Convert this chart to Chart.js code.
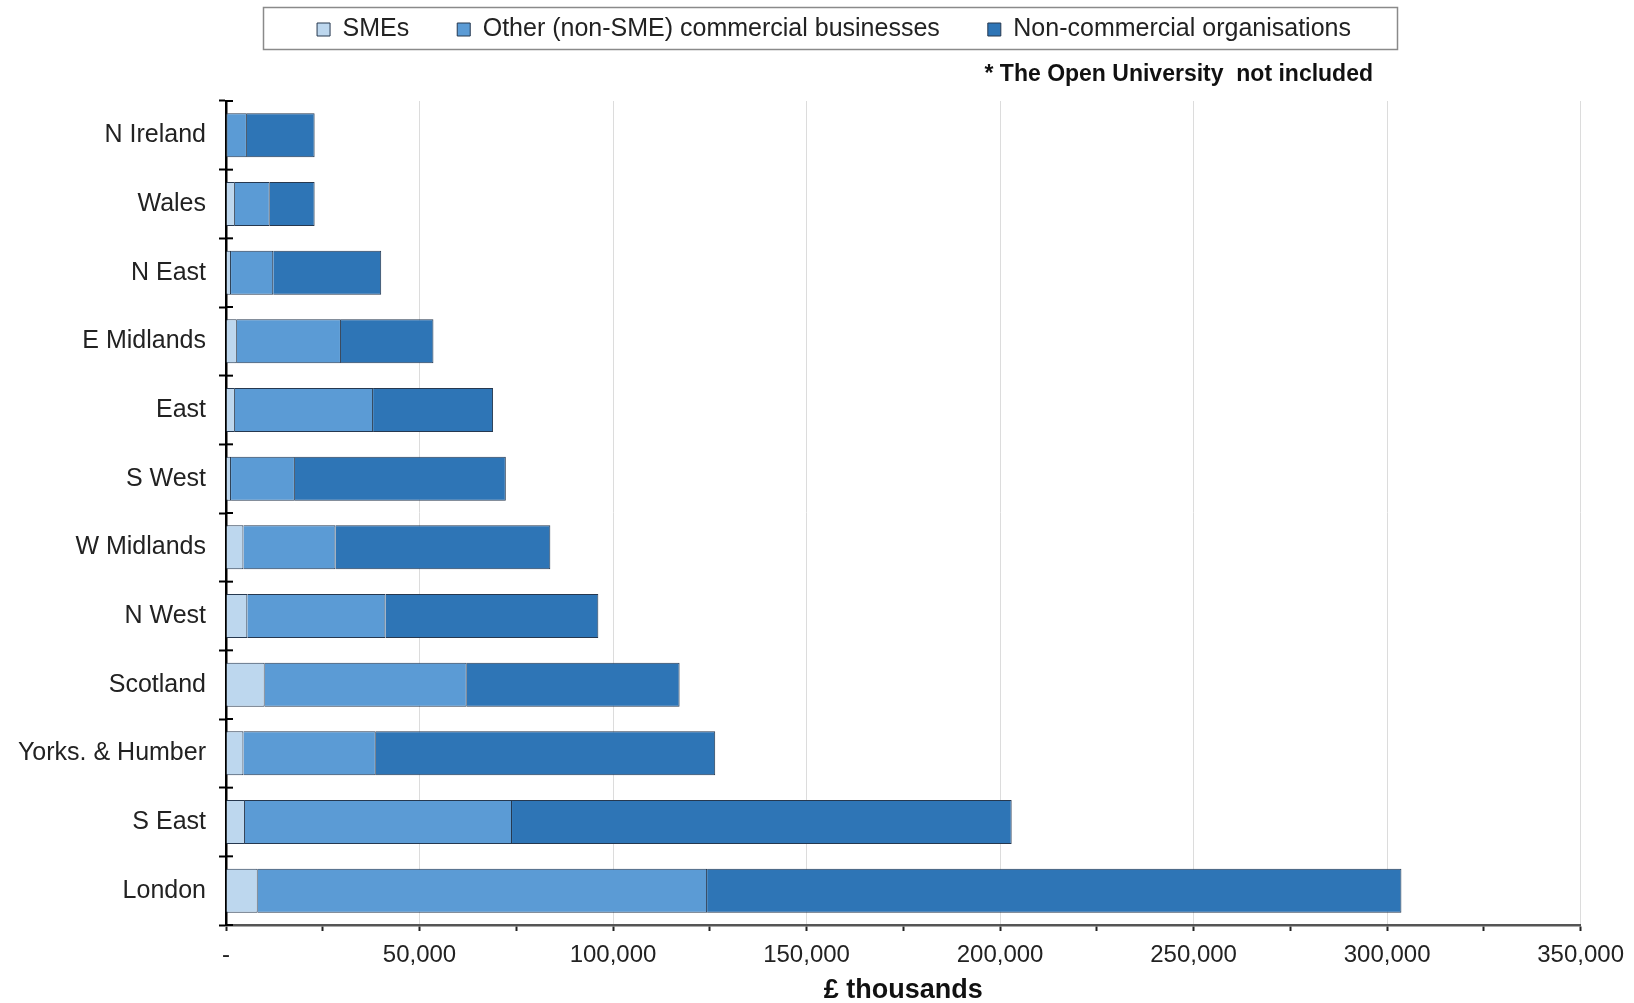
<!DOCTYPE html>
<html>
<head>
<meta charset="utf-8">
<script src="https://cdn.jsdelivr.net/npm/chart.js@4/dist/chart.umd.min.js"></script>
<style>
  body { margin: 0; background: #fff; }
  canvas { display: block; }
</style>
</head>
<body>
<canvas id="bar-chart" width="1634" height="1003"></canvas>
<script>
// regions, top to bottom
var regions = ['N Ireland', 'Wales', 'N East', 'E Midlands', 'East', 'S West', 'W Midlands', 'N West', 'Scotland', 'Yorks. & Humber', 'S East', 'London'];
// £ thousands
var smes          = [300, 2300, 1300, 2800, 2300, 1300, 4500, 5500, 10000, 4500, 4900, 8200];
var otherBusiness = [5100, 9000, 10900, 26900, 35700, 16500, 23800, 35700, 52200, 34200, 69000, 116100];
var nonCommercial = [17500, 11600, 27900, 23900, 31000, 54500, 55500, 55000, 55000, 87700, 129100, 179400];
var xTicks = [0, 50000, 100000, 150000, 200000, 250000, 300000, 350000];

var font = "'Liberation Sans', Arial, sans-serif";
var edge = '#26384f';
var legendShift = 43;

// legend frame, note text and the inner half of the y tick marks
var extras = {
  id: 'extras',
  beforeInit: function (chart) {
    var fit = chart.legend.fit;
    chart.legend.fit = function () {
      fit.bind(chart.legend)();
      this.height = 101;
    };
  },
  afterLayout: function (chart) {
    var lg = chart.legend;
    lg.top = -31;
    lg.bottom = lg.top + lg.height;
    lg.left += legendShift;
    lg.right += legendShift;
  },
  afterDraw: function (chart) {
    var ctx = chart.ctx, a = chart.chartArea, y = chart.scales.y;
    var hb = chart.legend.legendHitBoxes;
    ctx.save();
    // legend frame
    var last = hb[hb.length - 1];
    var l = hb[0].left - 54, r = last.left + last.width + 46;
    ctx.strokeStyle = '#8a8a8a';
    ctx.lineWidth = 1.5;
    ctx.strokeRect(Math.round(l) + 0.5, 7.5, Math.round(r - l), 42);
    // note
    ctx.fillStyle = '#111';
    ctx.font = 'bold 23px ' + font;
    ctx.textAlign = 'right';
    ctx.textBaseline = 'middle';
    ctx.fillText('* The Open University  not included', 1373, 75);
    // y tick marks crossing into the plot
    ctx.strokeStyle = '#000';
    ctx.lineWidth = 2;
    for (var i = 0; i <= regions.length; i++) {
      var p;
      if (i === 0) p = a.top;
      else if (i === regions.length) p = a.bottom;
      else p = (y.getPixelForValue(i - 1) + y.getPixelForValue(i)) / 2;
      ctx.beginPath();
      ctx.moveTo(a.left, p);
      ctx.lineTo(a.left + 7, p);
      ctx.stroke();
    }
    ctx.restore();
  }
};

new Chart(document.getElementById('bar-chart'), {
  type: 'bar',
  data: {
    labels: regions,
    datasets: [
      { label: 'SMEs', data: smes, backgroundColor: '#bdd7ee', borderColor: edge, borderWidth: 1 },
      { label: 'Other (non-SME) commercial businesses', data: otherBusiness, backgroundColor: '#5b9bd5', borderColor: edge, borderWidth: 1 },
      { label: 'Non-commercial organisations', data: nonCommercial, backgroundColor: '#2e75b6', borderColor: edge, borderWidth: 1 }
    ]
  },
  options: {
    responsive: false,
    animation: false,
    indexAxis: 'y',
    barPercentage: 0.64,
    categoryPercentage: 1,
    layout: { padding: { top: 0, right: 52, left: 0, bottom: 0 } },
    plugins: {
      tooltip: { enabled: false },
      legend: {
        position: 'top',
        labels: {
          boxWidth: 13,
          boxHeight: 13,
          padding: 48,
          color: '#222',
          font: { family: font, size: 25 }
        }
      }
    },
    scales: {
      x: {
        stacked: true,
        min: 0,
        max: 350000,
        afterBuildTicks: function (scale) {
          var t = [];
          for (var v = 0; v <= 350000; v += 25000) t.push({ value: v });
          scale.ticks = t;
        },
        afterFit: function (scale) { scale.height = 78; },
        border: { color: '#555', width: 2.5 },
        grid: {
          color: function (c) {
            var v = c.tick ? c.tick.value : 0;
            return (v > 0 && xTicks.indexOf(v) >= 0) ? '#dcdcdc' : 'rgba(0,0,0,0)';
          },
          lineWidth: 1,
          tickColor: '#222',
          tickWidth: 2,
          tickLength: 6
        },
        ticks: {
          autoSkip: false,
          maxRotation: 0,
          padding: 10,
          color: '#222',
          font: { family: font, size: 24 },
          callback: function (v) {
            if (v === 0) return '-';
            return xTicks.indexOf(v) >= 0 ? v.toLocaleString('en-US') : '';
          }
        },
        title: {
          display: true,
          text: '£ thousands',
          color: '#111',
          padding: { top: 0, bottom: -4 },
          font: { family: font, size: 27, weight: 'bold' }
        }
      },
      y: {
        stacked: true,
        afterFit: function (scale) { scale.width = 226; },
        border: { color: '#000', width: 2.5 },
        grid: {
          drawOnChartArea: false,
          tickColor: '#000',
          tickWidth: 2,
          tickLength: 7
        },
        ticks: {
          padding: 13,
          color: '#222',
          font: { family: font, size: 25 }
        }
      }
    }
  },
  plugins: [extras]
});
</script>
</body>
</html>
